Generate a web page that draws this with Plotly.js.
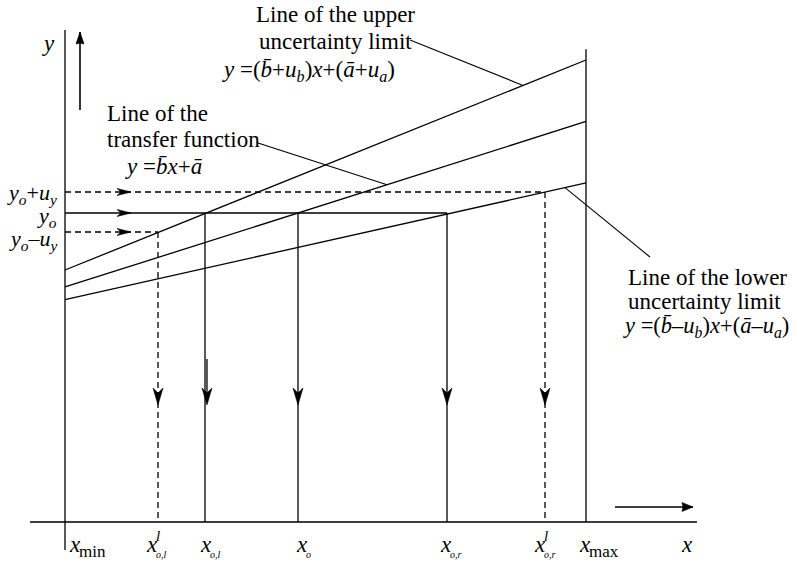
<!DOCTYPE html>
<html><head><meta charset="utf-8">
<script src="https://cdn.plot.ly/plotly-3.0.1.min.js"></script>
<style>
html,body{margin:0;padding:0;background:#fff;}
#chart{width:794px;height:561px;}
</style>
</head><body><div id="chart"></div>
<script>
// ---------- data (x_min = 0, x_max = 100 ; x-axis at y = 0) ----------
const xKeys = ['xmin', 'xolL', 'xol', 'xo', 'xor', 'xorL', 'xmax'];
const xVals = [0, 17.85, 26.87, 44.72, 73.32, 92.13, 100];
const lineEndsX = [0, 100];
const upperLimit = [52.50, 96.25];
const transferFn = [48.96, 83.44];
const lowerLimit = [46.35, 70.63];
const yLevelKeys = ['yoPlus', 'yo', 'yoMinus'];
const yLevels = [68.75, 64.38, 60.42];
const yAxisSpan = [-5.83, 102.5];
const xAxisSpan = [-6.72, 121.3];
const xmaxTop = 98.5;
const downTipY = 24.38;
const rightTipX = 12.67;
const xolArrowX = 27.25, xolArrowTop = 33.96;
const yArrowX = 2.88, yArrowSpan = [85.83, 102.08];
const xArrowY = 3.125, xArrowSpan = [105.57, 120.54];
const leaderUpperX = [66.22, 87.91], leaderUpperY = [100.42, 90.96];
const leaderTransferX = [37.04, 61.80], leaderTransferY = [78.96, 70.27];
const leaderLowerX = [95.97, 112.28], leaderLowerY = [69.65, 55.21];

const xTickMain = ['<i>x</i>', '<i>x</i>', '<i>x</i>', '<i>x</i>', '<i>x</i>', '<i>x</i>', '<i>x</i>'];
const xTickSub = ['min', '<i>o,l</i>', '<i>o,l</i>', '<i>o</i>', '<i>o,r</i>', '<i>o,r</i>', 'max'];
const xTickSup = ['', '<i>l</i>', '', '', '', '<i>l</i>', ''];
const yLevelLabels = [
  '<i>y</i><sub><i>o</i></sub>+<i>u</i><sub><i>y</i></sub>',
  '<i>y</i><sub><i>o</i></sub>',
  '<i>y</i><sub><i>o</i></sub>–<i>u</i><sub><i>y</i></sub>'
];
const upperTitle = ['Line of the upper', 'uncertainty limit'];
const transferTitle = ['Line of the', 'transfer function'];
const lowerTitle = ['Line of the lower', 'uncertainty limit'];
const upperFormula = '<i>y</i> =(<i>b̄</i>+<i>u</i><sub><i>b</i></sub>)<i>x</i>+(<i>ā</i>+<i>u</i><sub><i>a</i></sub>)';
const transferFormula = '<i>y</i> =<i>b̄x</i>+<i>ā</i>';
const lowerFormula = '<i>y</i> =(<i>b̄</i>–<i>u</i><sub><i>b</i></sub>)<i>x</i>+(<i>ā</i>–<i>u</i><sub><i>a</i></sub>)';

// ---------- layout geometry ----------
const W = 794, H = 561;
const XR = [-12.476, 139.923], YR = [-8.125, 108.75];
const pxX = W / (XR[1] - XR[0]), pxY = H / (YR[1] - YR[0]);
const BLACK = '#000';
const DASH = '6px,4px';
const traces = [];
function seg(x, y, dash, w) {
  traces.push({type: 'scatter', mode: 'lines', x: x, y: y, hoverinfo: 'skip',
    line: {color: BLACK, width: w || 1.3, dash: dash || 'solid'}});
}
function head(tx, ty, dir, L, Wd, N) {
  let xs, ys;
  const l = L, w = Wd / 2, n = L - N;
  if (dir === 'down') {
    xs = [tx, tx - w / pxX, tx, tx + w / pxX, tx];
    ys = [ty, ty + l / pxY, ty + n / pxY, ty + l / pxY, ty];
  } else if (dir === 'up') {
    xs = [tx, tx - w / pxX, tx, tx + w / pxX, tx];
    ys = [ty, ty - l / pxY, ty - n / pxY, ty - l / pxY, ty];
  } else {
    xs = [tx, tx - l / pxX, tx - n / pxX, tx - l / pxX, tx];
    ys = [ty, ty + w / pxY, ty, ty - w / pxY, ty];
  }
  traces.push({type: 'scatter', mode: 'lines', x: xs, y: ys, fill: 'toself',
    fillcolor: BLACK, hoverinfo: 'skip', line: {color: BLACK, width: 0.6}});
}

seg([0, 0], yAxisSpan);
seg(xAxisSpan, [0, 0]);
seg([100, 100], [0, xmaxTop]);
seg(lineEndsX, upperLimit);
seg(lineEndsX, transferFn);
seg(lineEndsX, lowerLimit);
seg([0, xVals[5]], [yLevels[0], yLevels[0]], DASH);
seg([0, xVals[4]], [yLevels[1], yLevels[1]]);
seg([0, xVals[1]], [yLevels[2], yLevels[2]], DASH);
seg([xVals[1], xVals[1]], [yLevels[2], 0], DASH);
seg([xVals[2], xVals[2]], [yLevels[1], 0]);
seg([xVals[3], xVals[3]], [yLevels[1], 0]);
seg([xVals[4], xVals[4]], [yLevels[1], 0]);
seg([xVals[5], xVals[5]], [yLevels[0], 0], DASH);
seg(leaderUpperX, leaderUpperY, null, 1.1);
seg(leaderTransferX, leaderTransferY, null, 1.1);
seg(leaderLowerX, leaderLowerY, null, 1.1);
seg([yArrowX, yArrowX], yArrowSpan, null, 1.6);
head(yArrowX, yArrowSpan[1], 'up', 12, 8, 1);
seg(xArrowSpan, [xArrowY, xArrowY], null, 1.6);
head(xArrowSpan[1], xArrowY, 'right', 11, 9, 1);
yLevels.forEach(function (v) { head(rightTipX, v, 'right', 14, 7, 4); });
[1, 3, 4, 5].forEach(function (i) { head(xVals[i], downTipY, 'down', 17, 10, 5); });
seg([xolArrowX, xolArrowX], [xolArrowTop, downTipY + 2], null, 1.3);
head(xolArrowX, downTipY, 'down', 17, 10, 5);

// ---------- text ----------
const FONT = 'Liberation Serif';
function txt(text, px, py, xanchor, size) {
  return {xref: 'paper', yref: 'paper', x: px / W, y: 1 - py / H, xanchor: xanchor,
    yanchor: 'middle', text: text, showarrow: false,
    font: {family: FONT, size: size || 23, color: BLACK}};
}
const ann = [];
ann.push(txt('<i>y</i>', 48, 43, 'center'));
const yLabelPy = [194, 217, 240];
yLevelLabels.forEach(function (t, i) { ann.push(txt(t, 59, yLabelPy[i], 'right', 22)); });
const xLabelPx = [67, 144, 198, 294, 438, 532, 577];
xTickMain.forEach(function (t, i) {
  ann.push(txt(t, xLabelPx[i], 544, 'left'));
  const big = xTickSub[i] === 'min' || xTickSub[i] === 'max';
  ann.push(txt(xTickSub[i], xLabelPx[i] + 10, big ? 551 : 554, 'left', big ? 17 : 10));
  if (xTickSup[i]) ann.push(txt(xTickSup[i], xLabelPx[i] + 10, 536, 'left', 15));
});
ann.push(txt('<i>x</i>', 679, 544, 'left'));
ann.push(txt(upperTitle[0], 254, 15, 'left'));
ann.push(txt(upperTitle[1], 257, 42, 'left'));
ann.push(txt(upperFormula, 220, 71, 'left', 23));
ann.push(txt(transferTitle[0], 105, 113, 'left'));
ann.push(txt(transferTitle[1], 105, 140, 'left'));
ann.push(txt(transferFormula, 123, 166, 'left', 23));
ann.push(txt(lowerTitle[0], 626, 277, 'left'));
ann.push(txt(lowerTitle[1], 626, 301, 'left'));
ann.push(txt(lowerFormula, 621, 327, 'left', 22.5));

const layout = {
  width: W, height: H, margin: {l: 0, r: 0, t: 0, b: 0},
  font: {family: FONT, color: BLACK},
  paper_bgcolor: '#fff', plot_bgcolor: '#fff', showlegend: false,
  xaxis: {range: XR, visible: false, fixedrange: true},
  yaxis: {range: YR, visible: false, fixedrange: true},
  annotations: ann
};
Plotly.newPlot('chart', traces, layout, {staticPlot: true, displayModeBar: false});
</script></body></html>
